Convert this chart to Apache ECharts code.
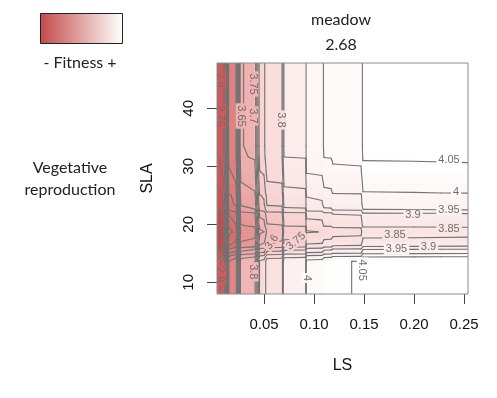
<!DOCTYPE html>
<html><head><meta charset="utf-8">
<script src="https://cdn.jsdelivr.net/npm/echarts@6/dist/echarts.min.js"></script>
<style>html,body{margin:0;padding:0;background:#fff}#c{width:497px;height:398px}</style>
</head><body><div id="c"></div>
<script>
// ---- data ----
// LS grid positions and the fitness profile along LS (top edge, SLA high)
const lsGrid   = [0.003, 0.006, 0.0095, 0.0105, 0.0116, 0.0149, 0.0219, 0.0268, 0.0408, 0.0457, 0.0500, 0.0530, 0.0680, 0.0700, 0.0915, 0.0925, 0.1080, 0.1100, 0.1170, 0.1190, 0.1470, 0.1490, 0.2000, 0.2540];
const lsEffect = [2.702, 2.712, 2.742, 2.783, 2.832, 3.122, 3.148, 3.497, 3.512, 3.728, 3.735, 3.796, 3.799, 3.905, 3.908, 3.982, 3.986, 4.006, 4.008, 4.018, 4.021, 4.063, 4.064, 4.066];
// SLA grid positions and the fitness shift along SLA
const slaGrid   = [7.98, 13.6, 14.0, 14.4, 14.8, 15.2, 15.7, 16.1, 16.8, 17.5, 18.2, 18.7, 19.3, 19.8, 20.8, 21.9, 22.5, 23.5, 25.0, 25.4, 27.0, 29.0, 31.1, 31.6, 33.5, 47.81];
const slaEffect = [0.03, 0.03, 0.01, -0.015, -0.05, -0.09, -0.115, -0.16, -0.19, -0.21, -0.225, -0.235, -0.225, -0.2, -0.185, -0.165, -0.115, -0.09, -0.08, -0.065, -0.05, -0.03, -0.012, -0.005, 0, 0];
const contourLevels = [2.5,2.55,2.6,2.65,2.7,2.75,2.8,2.85,2.9,2.95,3,3.05,3.1,3.15,3.2,3.25,3.3,3.35,3.4,3.45,3.5,3.55,3.6,3.65,3.7,3.75,3.8,3.85,3.9,3.95,4,4.05,4.1];
const contourLabelX = [0.235, 0.242, 0.235, 0.199, 0.235, 0.181, 0.2145, 0.1825, 0.0927, 0.1483, 0.067, 0.039, 0.039, 0.027, 0.0065, 0.0065, 0.039, 0.0065, 0.058, 0.082];
const contourLabelY = [31.1, 25.6, 22.47, 21.55, 19.2, 18.15, 16.14, 15.69, 10.74, 12.1, 37.98, 44.19, 38.67, 38.67, 44.9, 38.7, 11.8, 11.3, 16.95, 17.1];
const contourLabelText = ['4.05','4','3.95','3.9','3.85','3.85','3.9','3.95','4','4.05','3.8','3.75','3.7','3.65','2.8','2.75','3.8','2.8','3.6','3.75'];
const contourLabelAngle = [0,0,0,0,0,0,0,0,-90,-90,-90,-90,-90,-90,-90,-90,-90,-90,55,40];
const xTicks = [0.05, 0.10, 0.15, 0.20, 0.25];
const yTicks = [10, 20, 30, 40];
const panelTitle = 'meadow';
const panelValue = '2.68';
const rowLabel = ['Vegetative', 'reproduction'];
const legendLabel = '- Fitness +';

// ---- build the fitness table ----
const fitness = slaGrid.map((y, j) => lsGrid.map((x, i) => lsEffect[i] + slaEffect[j]));

const cells = [];
for (let j = 0; j < slaGrid.length - 1; j++) {
  for (let i = 0; i < lsGrid.length - 1; i++) {
    const z = (fitness[j][i] + fitness[j][i+1] + fitness[j+1][i] + fitness[j+1][i+1]) / 4;
    cells.push([lsGrid[i], slaGrid[j], lsGrid[i+1], slaGrid[j+1], z]);
  }
}

// marching squares on the table
const segs = [];
function lerp(p, q, a, b, L) { const t = (L - a) / (b - a); return [p[0] + t * (q[0] - p[0]), p[1] + t * (q[1] - p[1])]; }
for (let j = 0; j < slaGrid.length - 1; j++) {
  for (let i = 0; i < lsGrid.length - 1; i++) {
    const P = [[lsGrid[i], slaGrid[j]], [lsGrid[i+1], slaGrid[j]], [lsGrid[i+1], slaGrid[j+1]], [lsGrid[i], slaGrid[j+1]]];
    const Z = [fitness[j][i], fitness[j][i+1], fitness[j+1][i+1], fitness[j+1][i]];
    for (const L of contourLevels) {
      const up = Z.map(z => z >= L);
      const pts = {};
      const edges = [];
      for (let e = 0; e < 4; e++) {
        const a = e, b = (e + 1) % 4;
        if (up[a] !== up[b]) { pts[e] = lerp(P[a], P[b], Z[a], Z[b], L); edges.push(e); }
      }
      if (edges.length === 2) {
        segs.push([...pts[edges[0]], ...pts[edges[1]]]);
      } else if (edges.length === 4) {
        const center = (Z[0] + Z[1] + Z[2] + Z[3]) / 4 >= L;
        let pairs;
        if (up[0] === center) pairs = [[0, 1], [2, 3]]; else pairs = [[3, 0], [1, 2]];
        for (const pr of pairs) segs.push([...pts[pr[0]], ...pts[pr[1]]]);
      }
    }
  }
}

function fitnessAt(x, y) {
  let i = 0; while (i < lsGrid.length - 2 && x > lsGrid[i+1]) i++;
  let j = 0; while (j < slaGrid.length - 2 && y > slaGrid[j+1]) j++;
  const tx = (x - lsGrid[i]) / (lsGrid[i+1] - lsGrid[i]);
  const ty = (y - slaGrid[j]) / (slaGrid[j+1] - slaGrid[j]);
  const z0 = fitness[j][i] * (1 - tx) + fitness[j][i+1] * tx;
  const z1 = fitness[j+1][i] * (1 - tx) + fitness[j+1][i+1] * tx;
  return z0 * (1 - ty) + z1 * ty;
}
const labelData = contourLabelX.map((x, k) => [x, contourLabelY[k], contourLabelAngle[k], 0, fitnessAt(x, contourLabelY[k])]);

const chart = echarts.init(document.getElementById('c'), null, { renderer: 'canvas' });
const axisFont = 'Liberation Sans';
chart.setOption({
  animation: false,
  grid: { left: 217, top: 63, width: 251, height: 231, show: true, z: 10, borderColor: '#8c8c8c', borderWidth: 1, backgroundColor: 'transparent' },
  xAxis: {
    type: 'value', min: 0.003, max: 0.254,
    axisLine: { show: false }, splitLine: { show: false },
    axisTick: { show: true, length: 10, customValues: xTicks, lineStyle: { color: '#444' } },
    axisLabel: { customValues: xTicks, formatter: v => v.toFixed(2), fontSize: 15, color: '#111', margin: 23, fontFamily: axisFont },
    name: 'LS', nameLocation: 'middle', nameGap: 64,
    nameTextStyle: { fontSize: 16, color: '#111', fontFamily: axisFont }
  },
  yAxis: {
    type: 'value', min: 7.98, max: 47.81,
    axisLine: { show: false }, splitLine: { show: false },
    axisTick: { show: true, length: 10, customValues: yTicks, lineStyle: { color: '#444' } },
    axisLabel: { customValues: yTicks, rotate: 90, fontSize: 15, color: '#111', margin: 21, fontFamily: axisFont },
    name: 'SLA', nameLocation: 'middle', nameGap: 61,
    nameTextStyle: { fontSize: 16, color: '#111', fontFamily: axisFont }
  },
  visualMap: {
    type: 'continuous', show: false, min: 2.46, max: 4.06, dimension: 4, seriesIndex: [0, 2],
    inRange: { color: ['#c54545','#c94b4b','#cd5454','#d15d5d','#d56666','#d97070','#dd7a7a','#e18484','#e48e8e','#e99c9c','#eeaaaa','#f2b9b9','#f6c9c9','#f9d9d9','#fbe7e7','#fdf3f3','#ffffff'] }
  },
  graphic: [
    { type: 'rect', shape: { x: 40.5, y: 13.5, width: 82, height: 30 },
      style: { fill: new echarts.graphic.LinearGradient(0, 0, 1, 0, [{ offset: 0, color: '#c24a4a' }, { offset: 1, color: '#ffffff' }]), stroke: '#222', lineWidth: 1 } },
    { type: 'text', x: 80, y: 63, style: { text: legendLabel, font: '16px Lato', fill: '#222', align: 'center', verticalAlign: 'middle' } },
    { type: 'text', x: 341, y: 20, style: { text: panelTitle, font: '16px Lato', fill: '#222', align: 'center', verticalAlign: 'middle' } },
    { type: 'text', x: 341, y: 45, style: { text: panelValue, font: '16px Lato', fill: '#222', align: 'center', verticalAlign: 'middle' } },
    { type: 'text', x: 70, y: 168, style: { text: rowLabel[0], font: '16px Lato', fill: '#222', align: 'center', verticalAlign: 'middle' } },
    { type: 'text', x: 70, y: 190, style: { text: rowLabel[1], font: '16px Lato', fill: '#222', align: 'center', verticalAlign: 'middle' } }
  ],
  series: [
    {
      type: 'custom', name: 'fitness', data: cells, encode: { x: [0, 2], y: [1, 3] }, clip: true,
      progressive: 0,
      renderItem: (params, api) => {
        const p0 = api.coord([api.value(0), api.value(3)]);
        const p1 = api.coord([api.value(2), api.value(1)]);
        const c = api.visual('color');
        return { type: 'rect', shape: { x: p0[0], y: p0[1], width: p1[0] - p0[0], height: p1[1] - p0[1] },
          style: { fill: c, stroke: c, lineWidth: 0.6 }, silent: true };
      }
    },
    {
      type: 'custom', name: 'contours', data: segs, encode: { x: [0, 2], y: [1, 3] }, clip: true,
      progressive: 0, z: 3,
      renderItem: (params, api) => {
        const p0 = api.coord([api.value(0), api.value(1)]);
        const p1 = api.coord([api.value(2), api.value(3)]);
        return { type: 'line', shape: { x1: p0[0], y1: p0[1], x2: p1[0], y2: p1[1] },
          style: { stroke: '#727272', lineWidth: 1.1, lineCap: 'round' }, silent: true };
      }
    },
    {
      type: 'custom', name: 'labels', data: labelData, encode: { x: 0, y: 1 }, clip: true,
      progressive: 0, z: 4,
      renderItem: (params, api) => {
        const p = api.coord([api.value(0), api.value(1)]);
        return { type: 'text', x: p[0], y: p[1], rotation: api.value(2) * Math.PI / 180,
          style: { text: contourLabelText[params.dataIndex], font: '11px "Liberation Sans"', fill: '#6e6e6e',
            align: 'center', verticalAlign: 'middle', backgroundColor: api.visual('color'), padding: [0, 2] }, silent: true };
      }
    }
  ]
});
</script></body></html>
